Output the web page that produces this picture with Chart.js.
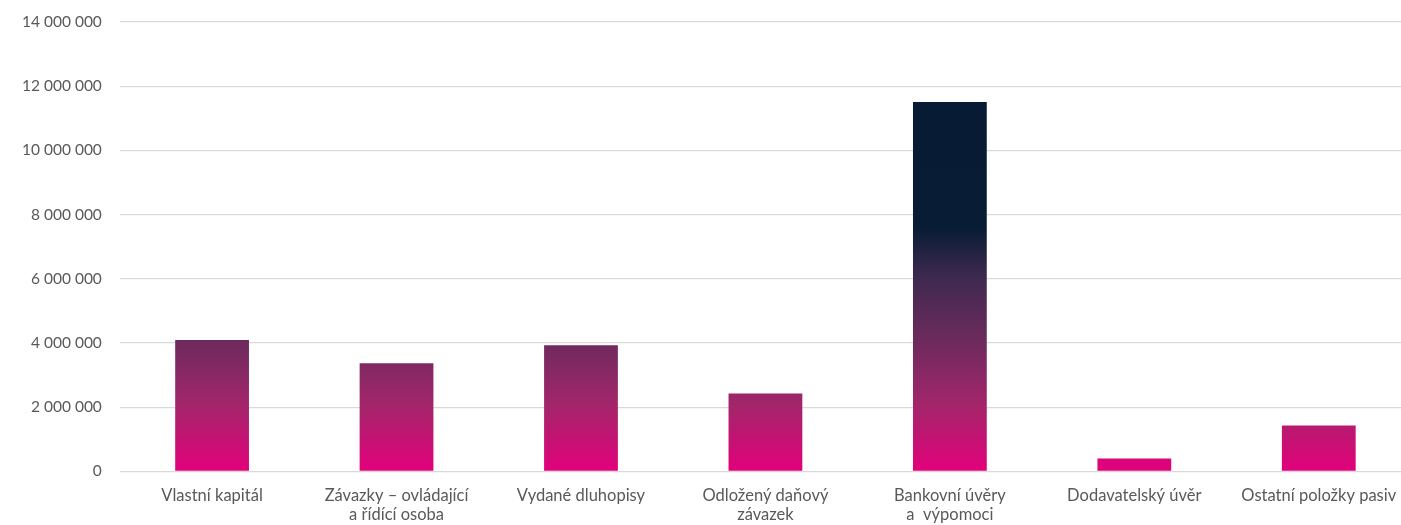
<!DOCTYPE html>
<html>
<head>
<meta charset="utf-8">
<script src="https://cdn.jsdelivr.net/npm/chart.js@4/dist/chart.umd.min.js"></script>
<style>
  html, body { margin: 0; padding: 0; background: #fff; overflow: hidden; }
  /* the original plot runs about 10px past the right edge of the picture */
  #wrap { width: 1411px; height: 525px; }
</style>
</head>
<body>
<div id="wrap"><canvas id="c"></canvas></div>
<script>
const categories = [
    'Vlastní kapitál',
    ['Závazky – ovládající', 'a řídící osoba'],
    'Vydané dluhopisy',
    ['Odložený daňový', 'závazek'],
    ['Bankovní úvěry', 'a  výpomoci'],
    'Dodavatelský úvěr',
    'Ostatní položky pasiv'
];
const values = [4090000, 3370000, 3930000, 2430000, 11510000, 405000, 1430000];
const yTicks = [0, 2000000, 4000000, 6000000, 8000000, 10000000, 12000000, 14000000];

// Gradient is anchored to the value axis, so every bar shares it.
const gradientStops = [
    [0, '#e3007b'],
    [2000000, '#a5256b'],
    [4000000, '#6e2a5d'],
    [6000000, '#3f2950'],
    [7600000, '#081c35'],
    [14000000, '#061c33']
];

function barFill(ctx) {
    const chart = ctx.chart;
    const { chartArea } = chart;
    if (!chartArea) return '#e3007b';
    const y = chart.scales.y;
    const g = chart.ctx.createLinearGradient(0, y.getPixelForValue(0), 0, y.getPixelForValue(14000000));
    gradientStops.forEach(([v, c]) => g.addColorStop(v / 14000000, c));
    return g;
}

const fmt = v => String(v).replace(/\B(?=(\d{3})+(?!\d))/g, ' ');

new Chart(document.getElementById('c'), {
    type: 'bar',
    data: {
        labels: categories,
        datasets: [{
            data: values,
            backgroundColor: barFill,
            borderWidth: 0,
            categoryPercentage: 1,
            barPercentage: 0.4
        }]
    },
    options: {
        responsive: true,
        maintainAspectRatio: false,
        animation: false,
        layout: { padding: { top: 22, right: 0, left: 18, bottom: -14 } },
        plugins: { legend: { display: false }, tooltip: { enabled: false } },
        scales: {
            x: {
                grid: { display: false, drawTicks: false },
                border: { display: false },
                ticks: {
                    color: '#595959',
                    font: { family: 'Lato', size: 16.5, lineHeight: 1.2 },
                    padding: 14,
                    maxRotation: 0,
                    autoSkip: false
                }
            },
            y: {
                min: 0,
                max: 14000000,
                afterBuildTicks: axis => { axis.ticks = yTicks.map(v => ({ value: v })); },
                // invisible tick marks give the horizontal gap without padding the top
                grid: { color: '#d9d9d9', lineWidth: 1.3, drawTicks: true, tickLength: 14, tickColor: 'rgba(0,0,0,0)' },
                border: { display: false },
                ticks: {
                    color: '#595959',
                    font: { family: 'Lato', size: 15.5 },
                    padding: 4,
                    callback: v => fmt(v)
                }
            }
        }
    }
});
</script>
</body>
</html>
